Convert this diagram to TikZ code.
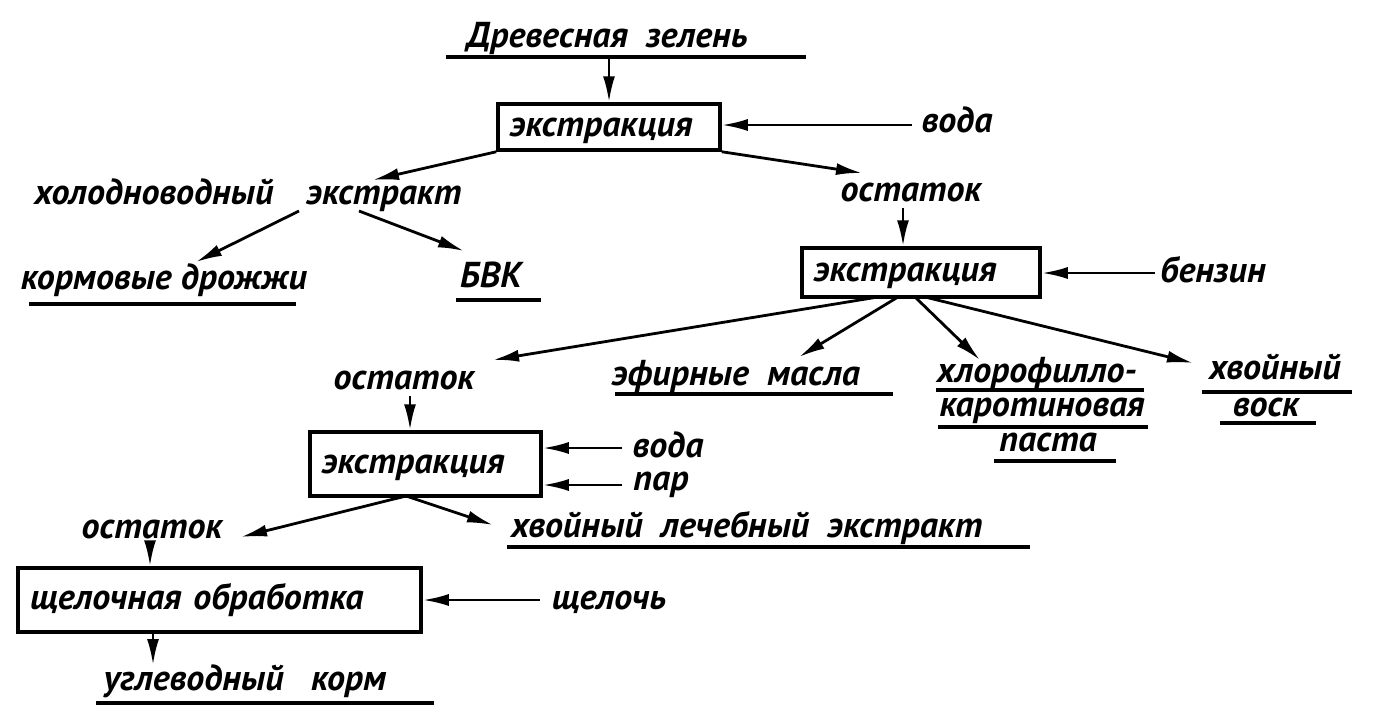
\documentclass[tikz,border=0pt]{standalone}
\usepackage{fontspec}
\setmainfont{PT Sans}
\usetikzlibrary{arrows.meta}
\begin{document}
\begin{tikzpicture}[x=1pt,y=-1pt,
  lbl/.style={inner sep=0pt, anchor=base, font=\fontsize{36}{40}\selectfont\bfseries\itshape},
  procbox/.style={draw, line width=3.5pt, inner xsep=12pt, inner ysep=0pt, align=left,
    text height=18pt, text depth=0pt,
    font=\fontsize{36}{40}\selectfont\bfseries\itshape},
  arr/.style={line width=2.8pt, -{Latex[length=26pt,width=12pt]}},
  ul/.style={line width=3.2pt}]
\useasboundingbox (0,0) rectangle (1386,726);
% boxes
\node[procbox, text width=198pt, minimum height=46pt] (B1) at (609,127) {экстракция};
\node[procbox, text width=214pt, minimum height=49pt] (B2) at (921,272.5) {экстракция};
\node[procbox, text width=207pt, minimum height=64pt] (B3) at (425.5,464) {экстракция};
\node[procbox, text width=379pt, minimum height=64pt] (B4) at (219.5,600) {щелочная обработка};
% labels (positioned at their baselines)
\node[lbl] (top) at (607,47) {Древесная\ \ зелень};
\node[lbl] (voda1) at (957,132) {вода};
\node[lbl] (holod) at (154,204) {холодноводный};
\node[lbl] (ekstr) at (384,204) {экстракт};
\node[lbl] (ost1) at (911,201) {остаток};
\node[lbl] (korm) at (164,289) {кормовые~дрожжи};
\node[lbl] (bvk) at (491,287) {БВК};
\node[lbl] (benz) at (1213,282) {бензин};
\node[lbl] (ost2) at (404,389) {остаток};
\node[lbl] (efir) at (736,385) {эфирные\ \ масла};
\node[lbl] (hl1) at (1037,382) {хлорофилло-};
\node[lbl] (hl2) at (1042,416) {каротиновая};
\node[lbl] (hl3) at (1048,451) {паста};
\node[lbl] (hv) at (1275,379) {хвойный};
\node[lbl] (vosk) at (1266,416) {воск};
\node[lbl] (voda2) at (668,457) {вода};
\node[lbl] (par) at (661,490) {пар};
\node[lbl] (ost3) at (152,538) {остаток};
\node[lbl] (hvl) at (747,537) {хвойный\ \ лечебный\ \ экстракт};
\node[lbl] (shch) at (609,609) {щелочь};
\node[lbl] (ugl) at (245,690) {углеводный\ \ \ корм};
% underlines
\draw[ul] (446,57) -- (806,57);
\draw[ul] (29,304) -- (296,304);
\draw[ul] (456,300) -- (541,300);
\draw[ul] (615,394) -- (893,394);
\draw[ul] (936,390) -- (1144,390);
\draw[ul] (938,427) -- (1148,427);
\draw[ul] (994,461) -- (1116,461);
\draw[ul] (1202,392) -- (1352,392);
\draw[ul] (1220,423) -- (1316,423);
\draw[ul] (507,547) -- (1030,547);
\draw[ul] (96,703) -- (434,703);
% coordinates for free ends
\coordinate (s1) at (609,57);
\coordinate (s2) at (912,125);
\coordinate (t3) at (373,180);
\coordinate (t4) at (862,173);
\coordinate (s5) at (299,211);
\coordinate (t5) at (196,262);
\coordinate (s6) at (359,211);
\coordinate (t6) at (464,251);
\coordinate (s7) at (903,208);
\coordinate (s8) at (1155,273);
\coordinate (b2a) at (878,297);
\coordinate (b2b) at (898,297);
\coordinate (b2c) at (915,297);
\coordinate (b2d) at (925,297);
\coordinate (t9) at (493,360);
\coordinate (t10) at (799,357);
\coordinate (t11) at (980,360);
\coordinate (t12) at (1193,363);
\coordinate (s13) at (410,396);
\coordinate (s14) at (622,448);
\coordinate (s15) at (622,485);
\coordinate (b3s) at (406,496);
\coordinate (t16) at (241,537);
\coordinate (t17) at (493,525);
\coordinate (s18) at (150,545);
\coordinate (s19) at (540,600);
\coordinate (b4s) at (153,632);
\coordinate (t20) at (153,665);
% arrows
\draw[arr] (s1) -- (s1 |- B1.north);
\draw[arr] (s2) -- (s2 -| B1.east);
\draw[arr] (B1.south west) -- (t3);
\draw[arr] (B1.south east) -- (t4);
\draw[arr] (s5) -- (t5);
\draw[arr] (s6) -- (t6);
\draw[arr] (s7) -- (s7 |- B2.north);
\draw[arr] (s8) -- (s8 -| B2.east);
\draw[arr] (b2a) -- (t9);
\draw[arr] (b2b) -- (t10);
\draw[arr] (b2c) -- (t11);
\draw[arr] (b2d) -- (t12);
\draw[arr] (s13) -- (s13 |- B3.north);
\draw[arr] (s14) -- (s14 -| B3.east);
\draw[arr] (s15) -- (s15 -| B3.east);
\draw[arr] (b3s) -- (t16);
\draw[arr] (b3s) -- (t17);
\draw[arr] (s18) -- (s18 |- B4.north);
\draw[arr] (s19) -- (s19 -| B4.east);
\draw[arr] (b4s) -- (t20);
\end{tikzpicture}
\end{document}
